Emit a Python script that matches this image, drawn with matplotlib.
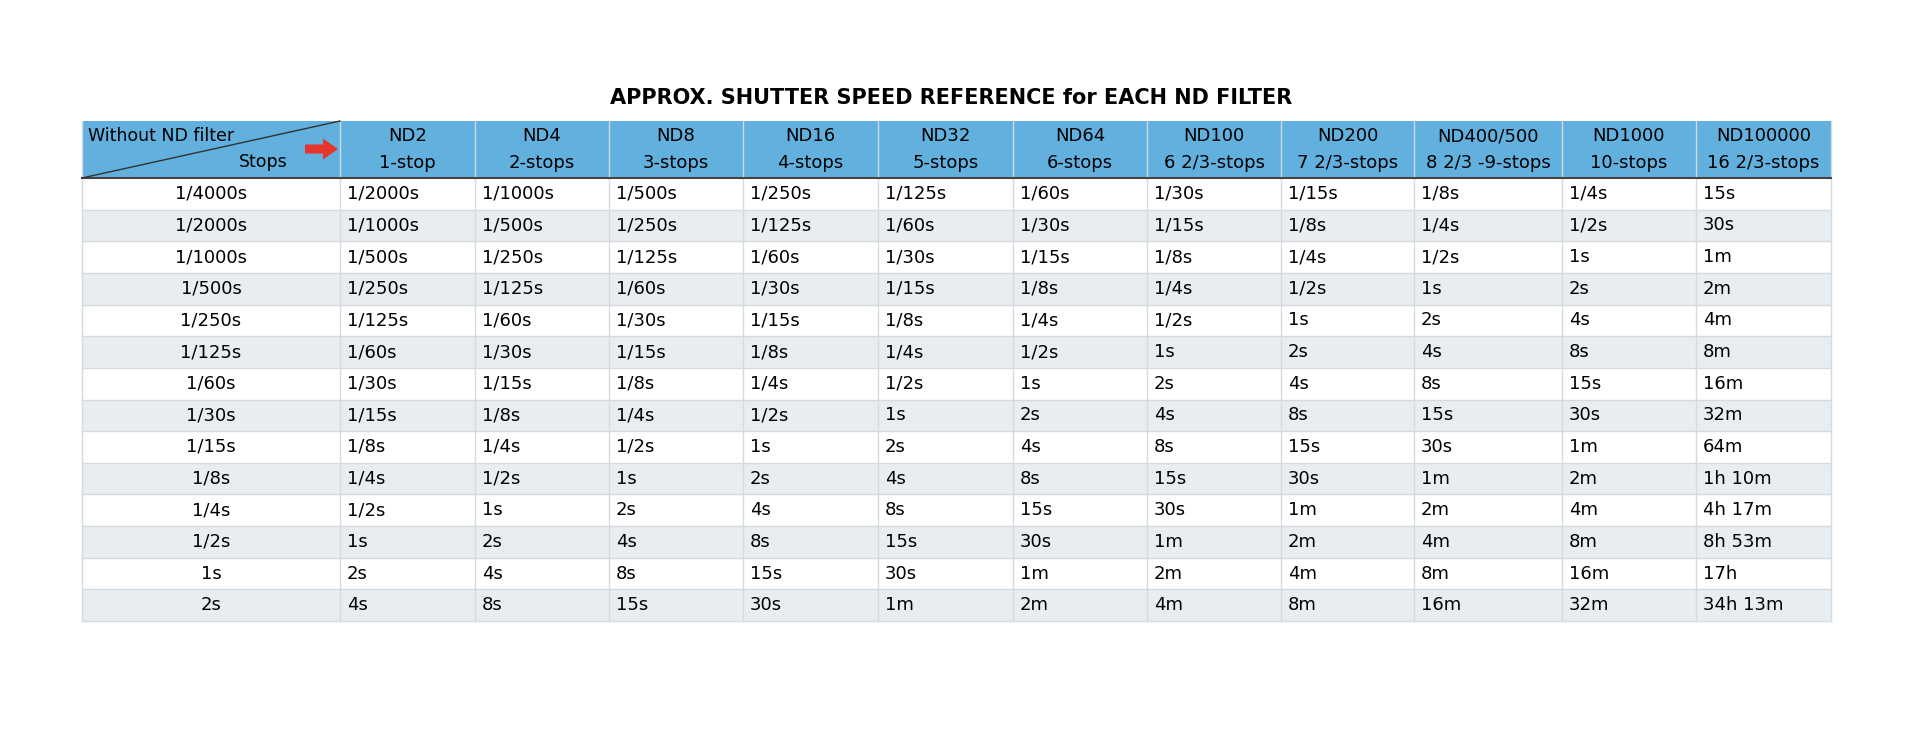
import matplotlib
matplotlib.use("Agg")
import matplotlib.pyplot as plt
from matplotlib.patches import Rectangle, FancyArrow

title = "APPROX. SHUTTER SPEED REFERENCE for EACH ND FILTER"
filters = ["ND2", "ND4", "ND8", "ND16", "ND32", "ND64", "ND100", "ND200", "ND400/500", "ND1000", "ND100000"]
stops = ["1-stop", "2-stops", "3-stops", "4-stops", "5-stops", "6-stops", "6 2/3-stops", "7 2/3-stops", "8 2/3 -9-stops", "10-stops", "16 2/3-stops"]
base = ["1/4000s", "1/2000s", "1/1000s", "1/500s", "1/250s", "1/125s", "1/60s", "1/30s", "1/15s", "1/8s", "1/4s", "1/2s", "1s", "2s"]
table = [
    ["1/2000s", "1/1000s", "1/500s", "1/250s", "1/125s", "1/60s", "1/30s", "1/15s", "1/8s", "1/4s", "15s"],
    ["1/1000s", "1/500s", "1/250s", "1/125s", "1/60s", "1/30s", "1/15s", "1/8s", "1/4s", "1/2s", "30s"],
    ["1/500s", "1/250s", "1/125s", "1/60s", "1/30s", "1/15s", "1/8s", "1/4s", "1/2s", "1s", "1m"],
    ["1/250s", "1/125s", "1/60s", "1/30s", "1/15s", "1/8s", "1/4s", "1/2s", "1s", "2s", "2m"],
    ["1/125s", "1/60s", "1/30s", "1/15s", "1/8s", "1/4s", "1/2s", "1s", "2s", "4s", "4m"],
    ["1/60s", "1/30s", "1/15s", "1/8s", "1/4s", "1/2s", "1s", "2s", "4s", "8s", "8m"],
    ["1/30s", "1/15s", "1/8s", "1/4s", "1/2s", "1s", "2s", "4s", "8s", "15s", "16m"],
    ["1/15s", "1/8s", "1/4s", "1/2s", "1s", "2s", "4s", "8s", "15s", "30s", "32m"],
    ["1/8s", "1/4s", "1/2s", "1s", "2s", "4s", "8s", "15s", "30s", "1m", "64m"],
    ["1/4s", "1/2s", "1s", "2s", "4s", "8s", "15s", "30s", "1m", "2m", "1h 10m"],
    ["1/2s", "1s", "2s", "4s", "8s", "15s", "30s", "1m", "2m", "4m", "4h 17m"],
    ["1s", "2s", "4s", "8s", "15s", "30s", "1m", "2m", "4m", "8m", "8h 53m"],
    ["2s", "4s", "8s", "15s", "30s", "1m", "2m", "4m", "8m", "16m", "17h"],
    ["4s", "8s", "15s", "30s", "1m", "2m", "4m", "8m", "16m", "32m", "34h 13m"],
]

col_edges = [82, 340, 475, 609, 743, 878, 1013, 1147, 1281, 1414, 1562, 1696, 1831]
head_top, head_bot, tab_bot = 121, 178, 621
nrows = len(base)
rh = (tab_bot - head_bot) / nrows

HEAD = "#62B0DE"
ALT = "#E8EDF2"
GRID = "#D5DADF"
FS = 13

fig = plt.figure(figsize=(19.2, 7.35), dpi=100)
ax = fig.add_axes([0, 0, 1, 1])
ax.set_xlim(0, 1920)
ax.set_ylim(735, 0)
ax.axis("off")

ax.text(951, 98, title, ha="center", va="center", fontsize=15, fontweight="bold", color="black")

L, R = col_edges[0], col_edges[-1]
ax.add_patch(Rectangle((L, head_top), R - L, head_bot - head_top, color=HEAD, lw=0))
for i in range(nrows):
    y0 = head_bot + i * rh
    if i % 2 == 1:
        ax.add_patch(Rectangle((L, y0), R - L, rh, color=ALT, lw=0))
    ax.plot([L, R], [y0 + rh, y0 + rh], color=GRID, lw=1)
    ax.text((col_edges[0] + col_edges[1]) / 2, y0 + rh / 2, base[i], ha="center", va="center", fontsize=FS)
    for j, v in enumerate(table[i]):
        ax.text(col_edges[j + 1] + 7, y0 + rh / 2, v, ha="left", va="center", fontsize=FS)
for x in col_edges:
    ax.plot([x, x], [head_top, tab_bot], color=GRID, lw=1)
ax.plot([L, R], [head_bot, head_bot], color="#444444", lw=1.5)

# header
ax.plot([L, col_edges[1]], [head_bot, head_top], color="#333333", lw=1)
ax.text(L + 6, 136, "Without ND filter", ha="left", va="center", fontsize=FS - 0.5)
ax.text(288, 162, "Stops", ha="right", va="center", fontsize=FS - 0.5)
ax.add_patch(FancyArrow(305, 149, 18, 0, width=9, head_width=21, head_length=15,
                        length_includes_head=False, color="#E8352B", lw=0))
for j in range(len(filters)):
    cx = (col_edges[j + 1] + col_edges[j + 2]) / 2
    ax.text(cx, 136, filters[j], ha="center", va="center", fontsize=FS)
    ax.text(cx, 163, stops[j], ha="center", va="center", fontsize=FS)

fig.savefig("out.png", dpi=100)
